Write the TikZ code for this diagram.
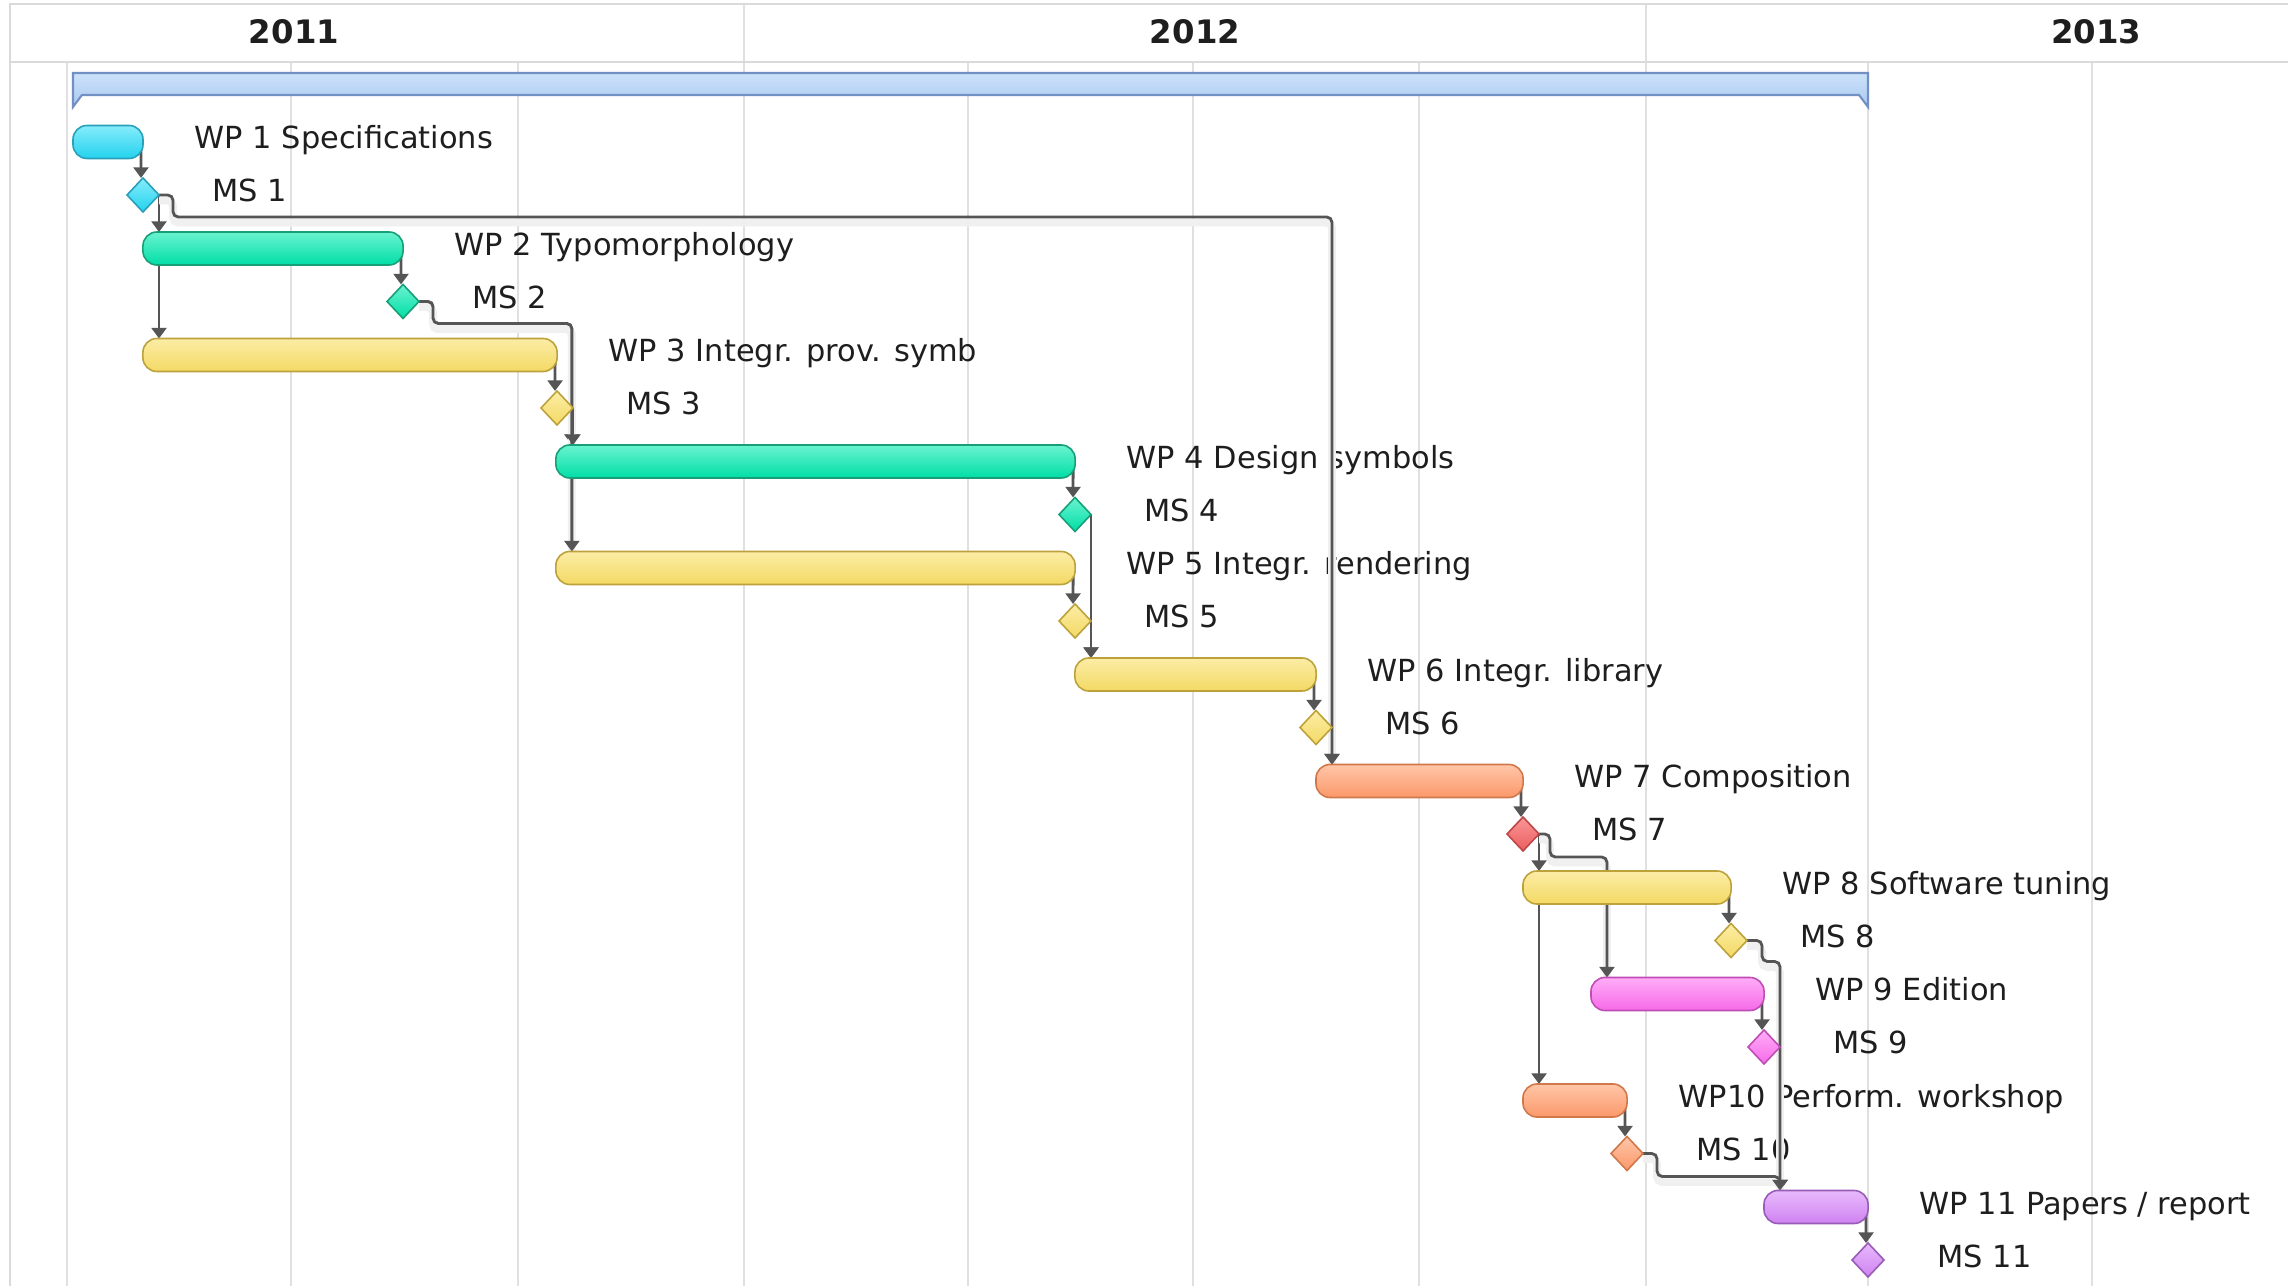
\documentclass[tikz,border=0pt]{standalone}
\usepackage{fontspec}
\setmainfont{DejaVu Sans}
\usetikzlibrary{shapes.geometric,arrows.meta}

\definecolor{gridline}{HTML}{E0E0E0}
\definecolor{frameline}{HTML}{DADADA}
\definecolor{linkline}{HTML}{555555}
\definecolor{txt}{HTML}{1E1E1E}
% task colours: top, bottom, outline
\definecolor{cyanT}{HTML}{86ECFB}\definecolor{cyanB}{HTML}{22D2EE}\definecolor{cyanD}{HTML}{2A9FBA}
\definecolor{greenT}{HTML}{6AF3D0}\definecolor{greenB}{HTML}{00DEA6}\definecolor{greenD}{HTML}{17A078}
\definecolor{yellowT}{HTML}{FCEDA6}\definecolor{yellowB}{HTML}{F3D964}\definecolor{yellowD}{HTML}{BDA23C}
\definecolor{orangeT}{HTML}{FFC6A8}\definecolor{orangeB}{HTML}{FB986A}\definecolor{orangeD}{HTML}{D0784A}
\definecolor{redT}{HTML}{F99696}\definecolor{redB}{HTML}{EC5E5E}\definecolor{redD}{HTML}{BE4646}
\definecolor{magT}{HTML}{FFADF8}\definecolor{magB}{HTML}{F66AE8}\definecolor{magD}{HTML}{BE4DB6}
\definecolor{purT}{HTML}{E8BAFB}\definecolor{purB}{HTML}{CF82F2}\definecolor{purD}{HTML}{985CB6}
\definecolor{sumT}{HTML}{CDE2FA}\definecolor{sumB}{HTML}{A8C8F0}\definecolor{sumD}{HTML}{7390C2}

\pgfdeclarelayer{grid}
\pgfdeclarelayer{labels}
\pgfdeclarelayer{links}
\pgfsetlayers{grid,labels,links,main}

\tikzset{
  bar/.style={rectangle, rounded corners=0.14cm, minimum height=0.33cm,
    inner sep=0pt, outer sep=0pt, line width=0.45pt},
  ms/.style={diamond, minimum width=0.32cm, minimum height=0.34cm,
    inner sep=0pt, outer sep=0pt, line width=0.45pt},
  cyanfill/.style={top color=cyanT, bottom color=cyanB, draw=cyanD},
  greenfill/.style={top color=greenT, bottom color=greenB, draw=greenD},
  yellowfill/.style={top color=yellowT, bottom color=yellowB, draw=yellowD},
  orangefill/.style={top color=orangeT, bottom color=orangeB, draw=orangeD},
  redfill/.style={top color=redT, bottom color=redB, draw=redD},
  magentafill/.style={top color=magT, bottom color=magB, draw=magD},
  purplefill/.style={top color=purT, bottom color=purB, draw=purD},
  lbl/.style={anchor=base west, inner sep=0pt, text=txt,
    font=\fontsize{8.65}{10}\selectfont},
  yearlbl/.style={anchor=base, inner sep=0pt, text=txt,
    font=\fontsize{9.2}{11}\selectfont\bfseries},
  dep/.style={draw=linkline, line width=0.8pt, rounded corners=1.5pt,
    -{Triangle[length=3pt,width=4.2pt]}},
  routed/.style={dep, preaction={draw=black!6, line width=2.2pt, arrows=-,
      transform canvas={yshift=-1.6pt}}},
  gridrule/.style={draw=gridline, line width=0.55pt},
  framerule/.style={draw=frameline, line width=0.8pt},
}

\begin{document}
\begin{tikzpicture}[x=0.01cm,y=-0.01cm]
\useasboundingbox (0,0) rectangle (2288,1286);

% timeline grid and header
\begin{pgfonlayer}{grid}
  \fill[white] (0,0) rectangle (2288,1286);
  \foreach \gx in {67,291,518,968,1193,1419,1868,2092}
    \draw[gridrule] (\gx,62) -- (\gx,1286);
  \foreach \gx in {744,1646}
    \draw[gridrule] (\gx,4) -- (\gx,1286);
  \draw[framerule] (2288,4) -- (10,4) -- (10,1286);
  \draw[framerule] (10,62) -- (2288,62);
\end{pgfonlayer}

\node[yearlbl] (y2011) at (294,44) {2011};
\node[yearlbl] (y2012) at (1195,44) {2012};
\node[yearlbl] (y2013) at (2096,44) {2013};

% project summary bar
\draw[line width=0.6pt, draw=sumD, top color=sumT, bottom color=sumB]
  (73,73) -- (1868,73) -- (1868,107) -- (1859,95) -- (82,95) -- (73,107) -- cycle;

% work packages and milestones
\node[bar, cyanfill,    minimum width=0.70cm] (wp1)  at (108,142)    {};
\node[ms,  cyanfill]                          (ms1)  at (143,195)    {};
\node[bar, greenfill,   minimum width=2.60cm] (wp2)  at (273,248.5)  {};
\node[ms,  greenfill]                         (ms2)  at (403,301.5)  {};
\node[bar, yellowfill,  minimum width=4.14cm] (wp3)  at (350,355)    {};
\node[ms,  yellowfill]                        (ms3)  at (557,408)    {};
\node[bar, greenfill,   minimum width=5.19cm] (wp4)  at (815.5,461.5){};
\node[ms,  greenfill]                         (ms4)  at (1075,514.5) {};
\node[bar, yellowfill,  minimum width=5.19cm] (wp5)  at (815.5,568)  {};
\node[ms,  yellowfill]                        (ms5)  at (1075,621)   {};
\node[bar, yellowfill,  minimum width=2.41cm] (wp6)  at (1195.5,674.5){};
\node[ms,  yellowfill]                        (ms6)  at (1316,727.5) {};
\node[bar, orangefill,  minimum width=2.07cm] (wp7)  at (1419.5,781) {};
\node[ms,  redfill]                           (ms7)  at (1523,834)   {};
\node[bar, yellowfill,  minimum width=2.08cm] (wp8)  at (1627,887.5) {};
\node[ms,  yellowfill]                        (ms8)  at (1731,940.5) {};
\node[bar, magentafill, minimum width=1.73cm] (wp9)  at (1677.5,994) {};
\node[ms,  magentafill]                       (ms9)  at (1764,1047)  {};
\node[bar, orangefill,  minimum width=1.04cm] (wp10) at (1575,1100.5){};
\node[ms,  orangefill]                        (ms10) at (1627,1153.5){};
\node[bar, purplefill,  minimum width=1.04cm] (wp11) at (1816,1207)  {};
\node[ms,  purplefill]                        (ms11) at (1868,1260)  {};

% names of work packages and milestones
\begin{pgfonlayer}{labels}
  \node[lbl] (lwp1)  at ([shift={(51,7)}]wp1.east)  {WP 1 Specifications};
  \node[lbl] (lms1)  at ([shift={(69,7)}]ms1.center) {MS 1};
  \node[lbl] (lwp2)  at ([shift={(51,7)}]wp2.east)  {WP 2 Typomorphology};
  \node[lbl] (lms2)  at ([shift={(69,7)}]ms2.center) {MS 2};
  \node[lbl] (lwp3)  at ([shift={(51,7)}]wp3.east)  {WP 3 Integr. prov. symb};
  \node[lbl] (lms3)  at ([shift={(69,7)}]ms3.center) {MS 3};
  \node[lbl] (lwp4)  at ([shift={(51,7)}]wp4.east)  {WP 4 Design symbols};
  \node[lbl] (lms4)  at ([shift={(69,7)}]ms4.center) {MS 4};
  \node[lbl] (lwp5)  at ([shift={(51,7)}]wp5.east)  {WP 5 Integr. rendering};
  \node[lbl] (lms5)  at ([shift={(69,7)}]ms5.center) {MS 5};
  \node[lbl] (lwp6)  at ([shift={(51,7)}]wp6.east)  {WP 6 Integr. library};
  \node[lbl] (lms6)  at ([shift={(69,7)}]ms6.center) {MS 6};
  \node[lbl] (lwp7)  at ([shift={(51,7)}]wp7.east)  {WP 7 Composition};
  \node[lbl] (lms7)  at ([shift={(69,7)}]ms7.center) {MS 7};
  \node[lbl] (lwp8)  at ([shift={(51,7)}]wp8.east)  {WP 8 Software tuning};
  \node[lbl] (lms8)  at ([shift={(69,7)}]ms8.center) {MS 8};
  \node[lbl] (lwp9)  at ([shift={(51,7)}]wp9.east)  {WP 9 Edition};
  \node[lbl] (lms9)  at ([shift={(69,7)}]ms9.center) {MS 9};
  \node[lbl] (lwp10) at ([shift={(51,7)}]wp10.east) {WP10 Perform. workshop};
  \node[lbl] (lms10) at ([shift={(69,7)}]ms10.center) {MS 10};
  \node[lbl] (lwp11) at ([shift={(51,7)}]wp11.east) {WP 11 Papers / report};
  \node[lbl] (lms11) at ([shift={(69,7)}]ms11.center) {MS 11};
\end{pgfonlayer}

% dependencies
\begin{pgfonlayer}{links}
  % each work package ends in its milestone
  \foreach \k in {1,...,11}
    \draw[dep] ([xshift=-0.02cm]wp\k.east) -- ([xshift=-0.02cm]ms\k.north);

  % milestone to the work packages that follow
  \draw[dep] (ms1.east) -- (ms1.east |- wp2.north);
  \draw[dep] (ms1.east) -- (ms1.east |- wp3.north);
  \draw[routed] (ms1.east) -- ++(14,0) -- ++(0,22) -| ([xshift=0.16cm]wp7.north west);
  \draw[routed] (ms2.east) -- ++(14,0) -- ++(0,22) -| ([xshift=0.16cm]wp4.north west);
  \draw[routed] (ms2.east) -- ++(14,0) -- ++(0,22) -| ([xshift=0.16cm]wp5.north west);
  \draw[dep] (ms3.east) -- (ms3.east |- wp4.north);
  \draw[dep] (ms4.east) -- (ms4.east |- wp6.north);
  \draw[dep] (ms5.east) -- (ms5.east |- wp6.north);
  \draw[dep] (ms6.east) -- (ms6.east |- wp7.north);
  \draw[dep] (ms7.east) -- (ms7.east |- wp8.north);
  \draw[dep] (ms7.east) -- (ms7.east |- wp10.north);
  \draw[routed] (ms7.east) -- ++(11,0) -- ++(0,23) -| ([xshift=0.16cm]wp9.north west);
  \draw[routed] (ms8.east) -- ++(15,0) -- ++(0,21) -| ([xshift=0.16cm]wp11.north west);
  \draw[dep] (ms9.east) -- (ms9.east |- wp11.north);
  \draw[routed] (ms10.east) -- ++(14,0) -- ++(0,23) -| ([xshift=0.16cm]wp11.north west);
\end{pgfonlayer}
\end{tikzpicture}
\end{document}
